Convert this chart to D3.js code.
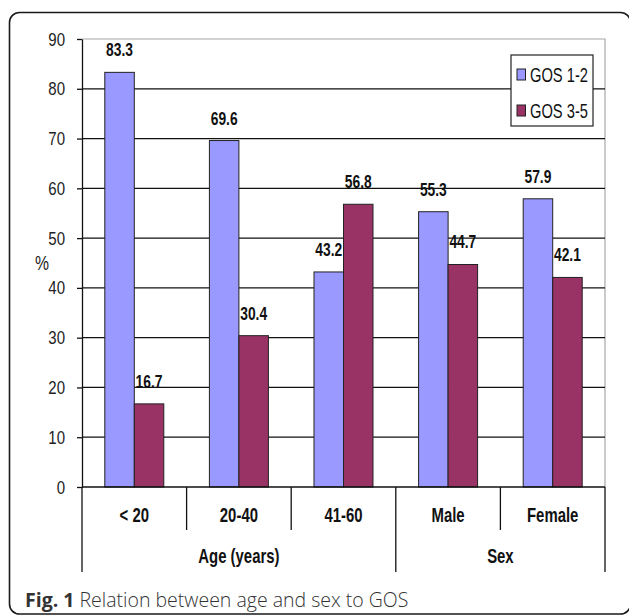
<!DOCTYPE html>
<html>
<head>
<meta charset="utf-8">
<script src="https://cdn.jsdelivr.net/npm/d3@7"></script>
<style>
  html, body { margin: 0; padding: 0; background: #fff; }
  svg { display: block; }
  .narrow { font-family: "Liberation Sans", Arial, sans-serif; }
</style>
</head>
<body>
<svg id="chart" width="629" height="615"></svg>
<script>
// Outcome (GOS) by age band and by sex, in percent
const categories = ["< 20", "20-40", "41-60", "Male", "Female"];
const groupNames = ["Age (years)", "Sex"];
const groupSizes = [3, 2];
const seriesNames = ["GOS 1-2", "GOS 3-5"];
const gos12 = [83.3, 69.6, 43.2, 55.3, 57.9];
const gos35 = [16.7, 30.4, 56.8, 44.7, 42.1];
const yTicks = [0, 10, 20, 30, 40, 50, 60, 70, 80, 90];
const colors = ["#9999FF", "#993366"];

const svg = d3.select("#chart");
const plot = { left: 82, right: 605, top: 39, bottom: 487 };

// Squeeze a text selection horizontally to mimic a condensed face
function condense(sel, k) {
  sel.each(function () {
    const w = this.getComputedTextLength();
    if (w > 0) {
      this.setAttribute("textLength", (w * k).toFixed(2));
      this.setAttribute("lengthAdjust", "spacingAndGlyphs");
    }
  });
}

// Rounded figure frame
svg.append("rect")
  .attr("x", 9.5).attr("y", 12.5)
  .attr("width", 621).attr("height", 601.5)
  .attr("rx", 10).attr("ry", 10)
  .attr("fill", "none").attr("stroke", "#1a1a1a").attr("stroke-width", 1.6);

const y = d3.scaleLinear().domain([0, 90]).range([plot.bottom, plot.top]);
const x = d3.scaleBand().domain(categories).range([plot.left, plot.right])
  .paddingInner(0.436).paddingOuter(0.218);
const x1 = d3.scaleBand().domain(seriesNames).range([0, x.bandwidth()]);

// Plot border (top and right) in grey
svg.append("path")
  .attr("d", `M${plot.left},${y(90)}H${plot.right}V${plot.bottom}`)
  .attr("fill", "none").attr("stroke", "#a8a8a8").attr("stroke-width", 1.2);

// Horizontal gridlines
svg.append("g").selectAll("line")
  .data(yTicks.filter(t => t > 0 && t < 90))
  .join("line")
  .attr("x1", plot.left).attr("x2", plot.right)
  .attr("y1", d => y(d)).attr("y2", d => y(d))
  .attr("stroke", "#111").attr("stroke-width", 1.3);

// Y axis
const yAxis = svg.append("g")
  .attr("transform", `translate(${plot.left},0)`)
  .call(d3.axisLeft(y).tickValues(yTicks).tickSize(5).tickSizeOuter(0).tickPadding(12));
yAxis.select(".domain").attr("stroke", "#111").attr("stroke-width", 1.3);
yAxis.selectAll(".tick line").attr("stroke", "#111").attr("stroke-width", 1.3);
yAxis.selectAll(".tick text")
  .attr("class", "narrow")
  .attr("font-size", 19).attr("fill", "#222")
  .call(condense, 0.79);

svg.append("text")
  .attr("class", "narrow")
  .attr("x", 42).attr("y", 263).attr("dy", "0.35em")
  .attr("text-anchor", "middle")
  .attr("font-size", 21).attr("fill", "#222")
  .text("%")
  .call(condense, 0.75);

// Bars
const rows = categories.map((c, i) => ({ cat: c, vals: [gos12[i], gos35[i]] }));
const groups = svg.append("g").selectAll("g")
  .data(rows).join("g")
  .attr("transform", d => `translate(${x(d.cat)},0)`);

groups.selectAll("rect")
  .data(d => d.vals.map((v, j) => ({ s: seriesNames[j], v, j })))
  .join("rect")
  .attr("x", d => x1(d.s))
  .attr("y", d => y(d.v))
  .attr("width", x1.bandwidth())
  .attr("height", d => y(0) - y(d.v))
  .attr("fill", d => colors[d.j])
  .attr("stroke", "#222").attr("stroke-width", 1);

groups.selectAll("text.val")
  .data(d => d.vals.map((v, j) => ({ s: seriesNames[j], v, j })))
  .join("text")
  .attr("class", "val narrow")
  .attr("x", d => x1(d.s) + x1.bandwidth() / 2)
  .attr("y", d => y(d.v) - 16)
  .attr("text-anchor", "middle")
  .attr("font-size", 17.5).attr("font-weight", "bold").attr("fill", "#111")
  .text(d => d.v.toFixed(1))
  .call(condense, 0.79);

// X axis baseline
svg.append("line")
  .attr("x1", plot.left).attr("x2", plot.right)
  .attr("y1", plot.bottom).attr("y2", plot.bottom)
  .attr("stroke", "#111").attr("stroke-width", 1.3);

// Category separators and labels
const step = x.step();
const bounds = d3.range(categories.length + 1).map(i => plot.left + i * step);
const groupEdges = [0];
groupSizes.forEach(s => groupEdges.push(groupEdges[groupEdges.length - 1] + s));

svg.append("g").selectAll("line")
  .data(bounds.map((b, i) => ({ b, major: groupEdges.includes(i) })))
  .join("line")
  .attr("x1", d => d.b).attr("x2", d => d.b)
  .attr("y1", plot.bottom)
  .attr("y2", d => d.major ? 572 : 530)
  .attr("stroke", "#111").attr("stroke-width", 1.3);

svg.append("g").selectAll("text")
  .data(categories)
  .join("text")
  .attr("class", "narrow")
  .attr("x", d => x(d) + x.bandwidth() / 2)
  .attr("y", 514.5).attr("dy", "0.35em")
  .attr("text-anchor", "middle")
  .attr("font-size", 21).attr("font-weight", "bold").attr("fill", "#111")
  .text(d => d)
  .call(condense, 0.71);

svg.append("g").selectAll("text")
  .data(groupNames.map((g, i) => ({ g, a: bounds[groupEdges[i]], b: bounds[groupEdges[i + 1]] })))
  .join("text")
  .attr("class", "narrow")
  .attr("x", d => (d.a + d.b) / 2)
  .attr("y", 556).attr("dy", "0.35em")
  .attr("text-anchor", "middle")
  .attr("font-size", 21).attr("font-weight", "bold").attr("fill", "#111")
  .text(d => d.g)
  .call(condense, 0.71);

// Legend
const legend = svg.append("g").attr("transform", "translate(511,55)");
legend.append("rect")
  .attr("width", 82).attr("height", 71)
  .attr("fill", "#fff").attr("stroke", "#222").attr("stroke-width", 1.2);
const items = legend.selectAll("g.item")
  .data(seriesNames).join("g")
  .attr("class", "item")
  .attr("transform", (d, i) => `translate(6,${19.5 + i * 36})`);
items.append("rect")
  .attr("x", 0).attr("y", -5.5)
  .attr("width", 8.5).attr("height", 11)
  .attr("fill", (d, i) => colors[i])
  .attr("stroke", "#222").attr("stroke-width", 1);
items.append("text")
  .attr("class", "narrow")
  .attr("x", 13).attr("dy", "0.36em")
  .attr("font-size", 21).attr("fill", "#111")
  .text(d => d)
  .call(condense, 0.7);

// Figure caption
const cap = svg.append("text")
  .attr("x", 25).attr("y", 607)
  .attr("font-family", "'Open Sans', 'Noto Sans', sans-serif")
  .attr("font-size", 19.5).attr("fill", "#333");
cap.append("tspan").attr("font-weight", "bold").text("Fig. 1");
cap.append("tspan").attr("font-weight", 300).text(" Relation between age and sex to GOS");
</script>
</body>
</html>
